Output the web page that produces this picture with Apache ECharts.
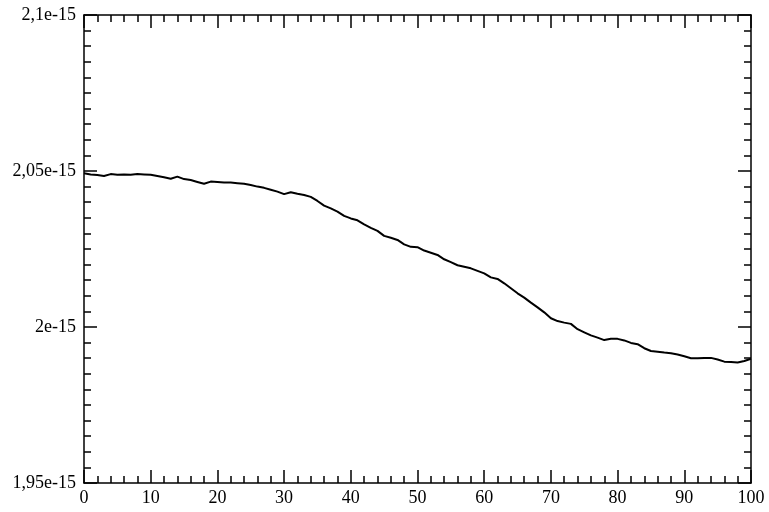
<!DOCTYPE html>
<html>
<head>
<meta charset="utf-8">
<script src="https://cdn.jsdelivr.net/npm/echarts@6/dist/echarts.min.js"></script>
<style>
html,body{margin:0;padding:0;background:#fff;}
#chart{width:769px;height:512px;}
</style>
</head>
<body>
<div id="chart"></div>
<script>
// x values (time / step)
var xValues = [0,1,2,3,4,5,6,7,8,9,10,11,12,13,14,15,16,17,18,19,20,21,22,23,24,25,26,27,28,29,30,31,32,33,34,35,36,37,38,39,40,41,42,43,44,45,46,47,48,49,50,51,52,53,54,55,56,57,58,59,60,61,62,63,64,65,66,67,68,69,70,71,72,73,74,75,76,77,78,79,80,81,82,83,84,85,86,87,88,89,90,91,92,93,94,95,96,97,98,99,100];
// y values, in units of 1e-15
var yValues = [2.0493,2.0489,2.0487,2.0484,2.0490,2.0488,2.0489,2.0488,2.0490,2.0489,2.0488,2.0484,2.0480,2.0475,2.0482,2.0474,2.0471,2.0465,2.0459,2.0466,2.0465,2.0463,2.0463,2.0461,2.0459,2.0455,2.0450,2.0446,2.0440,2.0434,2.0426,2.0432,2.0427,2.0423,2.0417,2.0404,2.0389,2.0380,2.0370,2.0356,2.0348,2.0342,2.0329,2.0318,2.0308,2.0292,2.0286,2.0279,2.0265,2.0257,2.0256,2.0245,2.0238,2.0231,2.0217,2.0208,2.0198,2.0193,2.0188,2.0180,2.0172,2.0159,2.0154,2.0140,2.0124,2.0108,2.0094,2.0078,2.0063,2.0047,2.0028,2.0019,2.0014,2.0010,1.9993,1.9983,1.9973,1.9966,1.9958,1.9962,1.9962,1.9957,1.9949,1.9945,1.9932,1.9923,1.9921,1.9918,1.9916,1.9912,1.9906,1.9900,1.9900,1.9901,1.9901,1.9896,1.9889,1.9888,1.9886,1.9891,1.9898];
var yTickValues = [1.95, 2.0, 2.05, 2.1];
var xTickValues = [0,10,20,30,40,50,60,70,80,90,100];

var data = xValues.map(function(x, i){ return [x, yValues[i]]; });

function fmtY(v){
  var s = String(Number(v.toFixed(2)));
  return s.replace('.', ',') + 'e-15';
}

var font = 'Liberation Serif';
var lineStyle = {color:'#000', width:1.5};

var chart = echarts.init(document.getElementById('chart'), null, {renderer:'canvas'});
chart.setOption({
  animation:false,
  backgroundColor:'#fff',
  grid:{left:84, top:15, right:18, bottom:29, containLabel:false},
  xAxis:[{
    type:'value', min:xTickValues[0], max:xTickValues[xTickValues.length-1], interval:10,
    position:'bottom',
    axisLine:{show:true, onZero:false, lineStyle:lineStyle},
    axisTick:{show:true, inside:true, length:13, lineStyle:lineStyle},
    minorTick:{show:true, splitNumber:5, length:7, lineStyle:lineStyle},
    axisLabel:{show:true, color:'#000', fontFamily:font, fontSize:18, margin:6},
    splitLine:{show:false}
  },{
    type:'value', min:xTickValues[0], max:xTickValues[xTickValues.length-1], interval:10,
    position:'top',
    axisLine:{show:true, onZero:false, lineStyle:lineStyle},
    axisTick:{show:true, inside:true, length:13, lineStyle:lineStyle},
    minorTick:{show:true, splitNumber:5, length:7, lineStyle:lineStyle},
    axisLabel:{show:false},
    splitLine:{show:false}
  }],
  yAxis:[{
    type:'value', min:yTickValues[0], max:yTickValues[yTickValues.length-1], interval:0.05,
    position:'left',
    axisLine:{show:true, onZero:false, lineStyle:lineStyle},
    axisTick:{show:true, inside:true, length:13, lineStyle:lineStyle},
    minorTick:{show:true, splitNumber:10, length:7, lineStyle:lineStyle},
    axisLabel:{show:true, color:'#000', fontFamily:font, fontSize:18, margin:8, formatter:fmtY},
    splitLine:{show:false}
  },{
    type:'value', min:yTickValues[0], max:yTickValues[yTickValues.length-1], interval:0.05,
    position:'right',
    axisLine:{show:true, onZero:false, lineStyle:lineStyle},
    axisTick:{show:true, inside:true, length:13, lineStyle:lineStyle},
    minorTick:{show:true, splitNumber:10, length:7, lineStyle:lineStyle},
    axisLabel:{show:false},
    splitLine:{show:false}
  }],
  series:[{
    type:'line', xAxisIndex:0, yAxisIndex:0,
    data:data, showSymbol:false, symbol:'none',
    lineStyle:{color:'#000', width:2},
    clip:true
  }]
});
</script>
</body>
</html>
